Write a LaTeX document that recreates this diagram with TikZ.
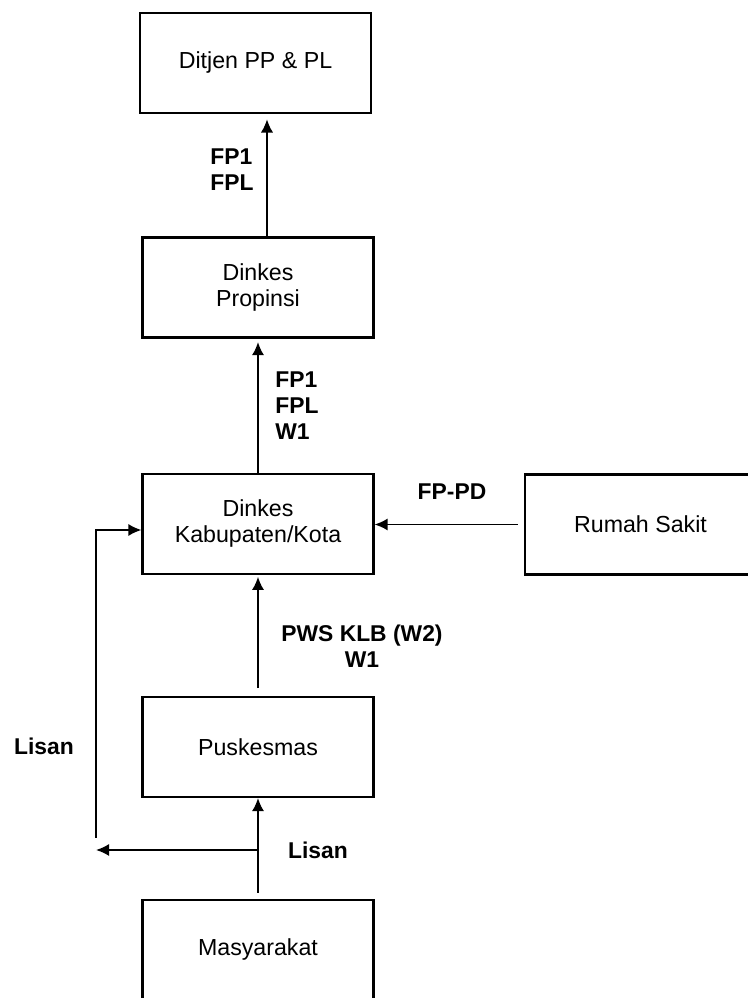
\documentclass[tikz,border=0pt]{standalone}
\usepackage{fontspec}
\setmainfont{Liberation Sans}
\usetikzlibrary{arrows.meta}

\tikzset{
	box/.style={draw, line width=1.2pt, minimum width=4.62cm, minimum height=2cm, inner sep=0pt, align=center, font=\fontsize{13.2}{14.8}\selectfont},
	flow/.style={line width=1.1pt, -{Latex[length=7.5pt,width=7pt]}},
	lbl/.style={font=\fontsize{13}{14.8}\selectfont\bfseries, inner sep=0pt}
}

\begin{document}
\begin{tikzpicture}
		\useasboundingbox (0, 0) rectangle (14.94, 19.96);
		
		\node[box] (ditjen) at (5.11, 18.70) {Ditjen PP \& PL};
		
		\node[box] (prop) at (5.16, 14.21) {Dinkes\\Propinsi};
		
		\node[box] (kab) at (5.16, 9.48) {Dinkes\\Kabupaten/Kota};
		
		\node[box] (rs) at (12.81, 9.47) {Rumah Sakit};
		
		\node[box] (pusk) at (5.16, 5.02) {Puskesmas};
		
		\node[box] (masy) at (5.16, 0.96) {Masyarakat};
		
		\coordinate (split) at (5.16, 2.96);
		\coordinate (tip) at (1.92, 2.96);
		\coordinate (bend) at (1.92, 3.20);
		
		\draw[flow, shorten >=3pt] ([xshift=0.18cm]prop.north) -- ([xshift=0.18cm]prop.north |- ditjen.south);
		\draw[flow, shorten >=2pt] (kab.north) -- (prop.south);
		\draw[flow, shorten <=4.5pt, shorten >=1pt] (pusk.north) -- (kab.south);
		\draw[flow, shorten <=3.5pt] (masy.north) -- (pusk.south);
		\draw[flow] (split) -- (tip);
		\draw[flow] (bend) |- ([yshift=-0.12cm]kab.west);
		\draw[flow, shorten <=3.5pt] (rs.west) -- (rs.west -| kab.east);
		
		\node[lbl, anchor=west, align=left] (l1) at (4.2, 16.56) {FP1\\FPL};
		\node[lbl, anchor=west, align=left] (l2) at (5.5, 11.84) {FP1\\FPL\\W1};
		\node[lbl] (l3) at (9.04, 10.12) {FP-PD};
		\node[lbl, align=center] (l4) at (7.24, 7.03) {PWS KLB (W2)\\W1};
		\node[lbl] (l5) at (6.36, 2.96) {Lisan};
		\node[lbl] (l6) at (0.88, 5.04) {Lisan};
	\end{tikzpicture}
\end{document}
